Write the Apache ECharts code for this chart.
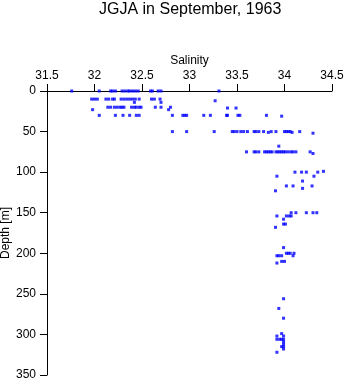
<!DOCTYPE html>
<html>
<head>
<meta charset="utf-8">
<script src="https://cdn.jsdelivr.net/npm/echarts@6/dist/echarts.min.js"></script>
<style>html,body{margin:0;padding:0;background:#fff}#c{width:346px;height:384px}</style>
</head>
<body>
<div id="c"></div>
<script>
// Depth levels [m] and the salinity readings observed at each level
const depthLevels = [0, 10, 12, 14, 20, 21, 23, 30, 31, 50, 51, 52, 68, 75, 77, 99, 100, 105, 111, 117, 120, 123,
  150, 154, 158, 164, 168, 193, 200, 203, 210, 212, 256, 268, 280, 299, 302, 306, 309, 312, 315, 318, 322];
const salinityAtLevel = [
  [31.76, 32.05, 32.17, 32.19, 32.22, 32.29, 32.32, 32.35, 32.37, 32.40, 32.43, 32.46, 32.59, 32.61, 32.67, 32.70, 33.31],
  [31.97, 32.00, 32.03, 32.12, 32.15, 32.19, 32.21, 32.28, 32.31, 32.34, 32.37, 32.40, 32.43, 32.47, 32.60, 32.63, 32.69],
  [33.27],
  [32.42, 32.70],
  [32.14, 32.17, 32.21, 32.24, 32.27, 32.29, 32.31, 32.39, 32.42, 32.44, 32.47, 32.49, 32.64, 32.70, 32.80],
  [33.40, 33.49],
  [31.98, 32.78],
  [32.05, 32.22, 32.30, 32.37, 32.44, 32.47, 32.82, 32.93, 32.95, 32.97, 33.15, 33.22, 33.39, 33.40, 33.51, 33.53, 33.81],
  [33.97],
  [32.82, 32.97, 33.26, 33.45, 33.47, 33.50, 33.54, 33.57, 33.61, 33.68, 33.70, 33.73, 33.78, 33.86, 33.91, 34.00, 34.02, 34.04, 34.06, 34.16],
  [33.83, 34.08],
  [34.30],
  [33.94],
  [33.60, 33.68, 33.70, 33.73, 33.79, 33.81, 33.83, 33.85, 33.87, 33.91, 33.93, 33.95, 33.97, 33.99, 34.01, 34.04, 34.07, 34.09, 34.12, 34.27],
  [34.30],
  [34.41],
  [34.11, 34.18, 34.23, 34.35],
  [33.92, 34.31],
  [34.19],
  [34.02, 34.09, 34.29],
  [34.19],
  [33.905],
  [34.07, 34.12, 34.23, 34.30, 34.34],
  [33.92, 34.02, 34.05, 34.07],
  [33.99],
  [33.99, 34.01],
  [33.905],
  [33.99],
  [34.02, 34.04, 34.06, 34.10],
  [33.92, 33.94, 33.97, 34.09],
  [33.97, 34.00],
  [33.92],
  [33.99],
  [33.94],
  [33.99],
  [33.97],
  [33.92, 33.99],
  [33.92, 33.95, 33.97, 33.99],
  [33.99],
  [33.99],
  [33.97, 33.99],
  [33.99],
  [33.92]
];
const salinityTicks = [31.5, 32, 32.5, 33, 33.5, 34, 34.5];
const depthTicks = [0, 50, 100, 150, 200, 250, 300, 350];

const points = [];
depthLevels.forEach((d, i) => salinityAtLevel[i].forEach(s => points.push([s, d])));

const font = 'Liberation Sans, Arial, Helvetica, sans-serif';
const chart = echarts.init(document.getElementById('c'), null, {renderer: 'canvas'});
chart.setOption({
  backgroundColor: '#ffffff',
  animation: false,
  title: {
    text: 'JGJA in September, 1963',
    left: 99, top: 2, padding: 0,
    textStyle: {fontFamily: font, fontSize: 16, fontWeight: 'normal', color: '#000'}
  },
  grid: {left: 47, right: 14, top: 91, bottom: 9, containLabel: false, outerBoundsMode: 'none'},
  xAxis: {
    type: 'value', position: 'top',
    min: salinityTicks[0], max: salinityTicks[salinityTicks.length - 1], interval: 0.5,
    name: 'Salinity', nameLocation: 'middle', nameGap: 24, nameMoveOverlap: false,
    nameTextStyle: {fontFamily: font, fontSize: 12, color: '#000'},
    axisLine: {show: true, onZero: false, lineStyle: {color: '#000', width: 1}},
    axisTick: {show: true, inside: false, length: 7, lineStyle: {color: '#000'}},
    axisLabel: {fontFamily: font, fontSize: 12, color: '#000', margin: 9},
    splitLine: {show: false}
  },
  yAxis: {
    type: 'value', inverse: true,
    min: depthTicks[0], max: depthTicks[depthTicks.length - 1], interval: 50,
    name: 'Depth [m]', nameLocation: 'middle', nameGap: 41, nameRotate: 90, nameMoveOverlap: false,
    nameTextStyle: {fontFamily: font, fontSize: 12, color: '#000', verticalAlign: 'middle'},
    axisLine: {show: true, onZero: false, lineStyle: {color: '#000', width: 1}},
    axisTick: {show: true, inside: false, length: 7, lineStyle: {color: '#000'}},
    axisLabel: {fontFamily: font, fontSize: 12, color: '#000', margin: 11},
    splitLine: {show: false}
  },
  series: [{
    type: 'scatter',
    data: points,
    symbol: 'rect',
    symbolSize: 3,
    itemStyle: {color: '#0000ff'}
  }]
});
</script>
</body>
</html>
